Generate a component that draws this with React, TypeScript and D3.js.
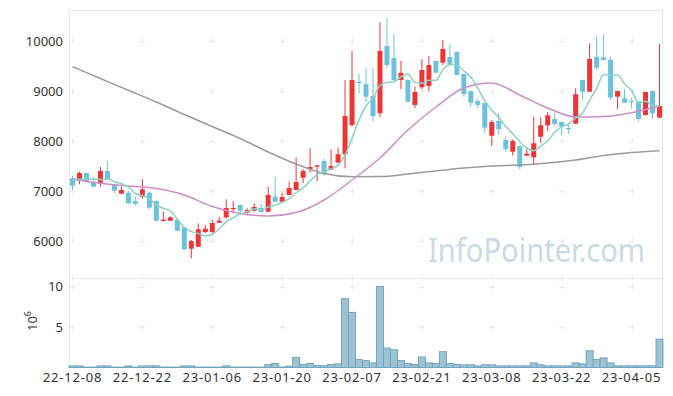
import * as d3 from "d3";

// trading days
const dates = [
  "22-12-08", "22-12-09", "22-12-12", "22-12-13", "22-12-14", "22-12-15", "22-12-16", "22-12-19", "22-12-20", "22-12-21",
  "22-12-22", "22-12-23", "22-12-26", "22-12-27", "22-12-28", "22-12-29", "23-01-02", "23-01-03", "23-01-04", "23-01-05",
  "23-01-06", "23-01-09", "23-01-10", "23-01-11", "23-01-12", "23-01-13", "23-01-16", "23-01-17", "23-01-18", "23-01-19",
  "23-01-20", "23-01-25", "23-01-26", "23-01-27", "23-01-30", "23-01-31", "23-02-01", "23-02-02", "23-02-03", "23-02-06",
  "23-02-07", "23-02-08", "23-02-09", "23-02-10", "23-02-13", "23-02-14", "23-02-15", "23-02-16", "23-02-17", "23-02-20",
  "23-02-21", "23-02-22", "23-02-23", "23-02-24", "23-02-27", "23-02-28", "23-03-02", "23-03-03", "23-03-06", "23-03-07",
  "23-03-08", "23-03-09", "23-03-10", "23-03-13", "23-03-14", "23-03-15", "23-03-16", "23-03-17", "23-03-20", "23-03-21",
  "23-03-22", "23-03-23", "23-03-24", "23-03-27", "23-03-28", "23-03-29", "23-03-30", "23-03-31", "23-04-03", "23-04-04",
  "23-04-05", "23-04-06", "23-04-07", "23-04-10", "23-04-11",
];
const tickLabels = ["22-12-08", "22-12-22", "23-01-06", "23-01-20", "23-02-07", "23-02-21", "23-03-08", "23-03-22", "23-04-05"];

const opens = [
  7254, 7206, 7360, 7180, 7146, 7400, 7126, 6946, 6966, 6800,
  6886, 6966, 6800, 6400, 6406, 6420, 6274, 5846, 5886, 6180,
  6180, 6366, 6474, 6650, 6720, 6566, 6606, 6660, 6586, 6886,
  6786, 6920, 7020, 7266, 7440, 7486, 7600, 7430, 7566, 7734,
  8320, 9186, 9134, 8900, 8554, 9900, 9660, 9220, 9220, 8720,
  9074, 9100, 9600, 9566, 9680, 9780, 9340, 9000, 8800, 8760,
  8106, 8400, 8020, 7786, 7900, 7706, 7674, 8086, 8314, 8440,
  8380, 8260, 8346, 9220, 8986, 9686, 9674, 9620, 8886, 8854,
  8806, 8786, 8520, 9000, 8466,
];
const highs = [
  7300, 7386, 7370, 7266, 7480, 7600, 7130, 7086, 7006, 6886,
  7240, 6980, 6810, 6590, 6494, 6440, 6280, 6020, 6354, 6314,
  6420, 6486, 6834, 6794, 6730, 6654, 6754, 6740, 7086, 7286,
  6960, 7194, 7676, 7440, 7854, 7520, 7654, 7834, 7870, 9220,
  9800, 9354, 9454, 9454, 10374, 10460, 10140, 9600, 9230, 9086,
  9634, 9700, 9610, 10020, 9940, 9790, 9350, 9010, 8854, 8770,
  8420, 8554, 8086, 8034, 7910, 7834, 8486, 8466, 8580, 8574,
  8390, 8354, 9054, 9230, 9954, 10100, 10136, 9686, 9000, 9034,
  8860, 8790, 8990, 9010, 9940,
];
const lows = [
  7020, 7134, 7170, 7080, 7086, 7220, 6954, 6940, 6750, 6706,
  6846, 6640, 6390, 6400, 6400, 6200, 5820, 5654, 5880, 6154,
  6160, 6360, 6446, 6566, 6554, 6514, 6586, 6570, 6570, 6780,
  6780, 6910, 7020, 7154, 7366, 7190, 7306, 7420, 7560, 7454,
  8286, 8954, 8774, 8400, 8474, 9454, 9186, 9040, 8770, 8654,
  9034, 8986, 9360, 9520, 9486, 9310, 8886, 8686, 8654, 8166,
  7900, 8120, 7786, 7706, 7434, 7706, 7520, 7960, 8200, 8300,
  8120, 8140, 8340, 8810, 8980, 9420, 9610, 8820, 8640, 8760,
  8650, 8386, 8510, 8440, 8460,
];
const closes = [
  7106, 7360, 7186, 7086, 7400, 7226, 7006, 7020, 6754, 6746,
  7034, 6666, 6406, 6426, 6474, 6206, 5834, 6000, 6234, 6246,
  6360, 6406, 6660, 6660, 6606, 6620, 6680, 6580, 6920, 6786,
  6880, 7060, 7180, 7400, 7480, 7514, 7334, 7500, 7734, 8500,
  9220, 9160, 8886, 8500, 9800, 9520, 9220, 9366, 8786, 8980,
  9420, 9520, 9366, 9840, 9540, 9320, 8940, 8766, 8720, 8266,
  8380, 8234, 7840, 8000, 7480, 7746, 7954, 8314, 8514, 8340,
  8286, 8246, 8934, 8986, 9640, 9466, 9620, 8866, 9000, 8766,
  8800, 8440, 8980, 8554, 8700,
];
// closes of the 4 days before the first one, for the 5-day average
const priorCloses = [7360, 7186, 7056, 7462];

// volume, in millions
const volumes = [
  0.2, 0.2, 0.05, 0.05, 0.2, 0.2, 0.05, 0.05, 0.2, 0.05,
  0.2, 0.2, 0.2, 0.05, 0.05, 0.05, 0.2, 0.2, 0.05, 0.05,
  0.05, 0.05, 0.2, 0.05, 0.05, 0.05, 0.05, 0.05, 0.37, 0.49,
  0.05, 0.16, 1.22, 0.37, 0.49, 0.24, 0.24, 0.37, 0.45, 8.5,
  6.8, 0.98, 0.85, 0.57, 10.0, 2.4, 2.2, 0.85, 0.49, 0.37,
  1.3, 0.57, 0.49, 1.95, 0.49, 0.37, 0.33, 0.33, 0.2, 0.33,
  0.33, 0.2, 0.2, 0.2, 0.2, 0.2, 0.57, 0.33, 0.2, 0.2,
  0.2, 0.2, 0.57, 0.45, 2.07, 0.98, 1.18, 0.57, 0.2, 0.2,
  0.2, 0.2, 0.2, 0.2, 3.5,
];

// 20 and 120 day averages, every 4th day
const maIdx = [0, 4, 8, 12, 16, 20, 24, 28, 32, 36, 40, 44, 48, 52, 56, 60, 64, 68, 72, 76, 80, 84];
const ma20 = [7240, 7154, 7100, 7050, 6920, 6690, 6550, 6500, 6570, 6820, 7220, 7660, 8220, 8680, 9060, 9160, 8920, 8660, 8480, 8490, 8566, 8700];
const ma120 = [9486, 9250, 9014, 8780, 8530, 8290, 8050, 7780, 7540, 7350, 7286, 7290, 7340, 7400, 7460, 7500, 7520, 7560, 7620, 7710, 7770, 7806];

const priceTicks = [6000, 7000, 8000, 9000, 10000];
const volTicks = [5, 10];

const W = 673, H = 396;
const left = 69, right = 663;
const mainTop = 10, mainBottom = 278, volBottom = 367.5;

const UP = "#ee3535";
const DOWN = "#6cc2dd";
const FONT = "'Noto Sans', sans-serif";

export default function App() {
  const x = d3.scaleBand<string>().domain(dates).range([left, right]);
  const bw = x.bandwidth();
  const cx = (i: number) => (x(dates[i]) as number) + bw / 2;
  const y = d3.scaleLinear().domain([5260, 10620]).range([mainBottom, mainTop]);
  const yv = d3.scaleLinear().domain([0, 11.05]).range([volBottom, mainBottom]);

  const all = [...priorCloses, ...closes];
  const ma5 = closes.map((_, i) => d3.mean(all.slice(i, i + 5)) as number);

  const line = d3
    .line<[number, number]>()
    .x((d) => cx(d[0]))
    .y((d) => y(d[1]))
    .curve(d3.curveMonotoneX);

  const crossXs = tickLabels.map((t) => (x(t) as number) + bw / 2);
  const crossYs = [...priceTicks.map((v) => y(v)), mainBottom, ...volTicks.map((v) => yv(v))];

  return (
    <svg width={W} height={H} style={{ position: "absolute", left: 0, top: 0 }} fontFamily={FONT}>
      <rect width={W} height={H} fill="#fff" />
      {/* panel frames */}
      <g fill="none" stroke="#e6e6e6" strokeWidth={1}>
        <rect x={left + 0.5} y={mainTop + 0.5} width={right - left - 1} height={mainBottom - mainTop} />
        <rect x={left + 0.5} y={mainBottom + 0.5} width={right - left - 1} height={volBottom - mainBottom - 0.5} />
      </g>
      {/* grid crosses */}
      <g stroke="#e8e8e8" strokeWidth={1}>
        {crossXs.map((gx) =>
          crossYs.map((gy) => (
            <g key={`${gx}-${gy}`}>
              <line x1={gx - 2.5} x2={gx + 2.5} y1={Math.round(gy) + 0.5} y2={Math.round(gy) + 0.5} />
              <line x1={Math.round(gx) + 0.5} x2={Math.round(gx) + 0.5} y1={gy - 2.5} y2={gy + 2.5} />
            </g>
          ))
        )}
      </g>
      {/* watermark */}
      <text x={428} y={262} fontSize={33} fill="#c8dbe5" textLength={217} lengthAdjust="spacingAndGlyphs">
        InfoPointer.com
      </text>
      {/* candles */}
      <g>
        {dates.map((d, i) => {
          const o = opens[i], c = closes[i];
          const col = c >= o ? UP : DOWN;
          const top = y(Math.max(o, c));
          const h = Math.max(1.2, Math.abs(y(o) - y(c)));
          const xc = cx(i);
          return (
            <g key={d}>
              <line x1={xc} x2={xc} y1={y(highs[i])} y2={y(lows[i])} stroke={col} strokeWidth={1} />
              <rect x={xc - 2.5} y={top} width={5} height={h} fill={col} />
            </g>
          );
        })}
      </g>
      {/* moving averages */}
      <path d={line(maIdx.map((i, k) => [i, ma120[k]]) as any) || ""} fill="none" stroke="#9b9b9b" strokeWidth={1.5} />
      <path d={line(maIdx.map((i, k) => [i, ma20[k]]) as any) || ""} fill="none" stroke="#cc8dcb" strokeWidth={1.5} />
      <path d={line(ma5.map((v, i) => [i, v]) as any) || ""} fill="none" stroke="#8ed0c5" strokeWidth={1.5} />
      {/* volume */}
      <g fill="#9dc3d3" stroke="#72a6bd" strokeWidth={1}>
        {dates.map((d, i) => (
          <rect key={d} x={x(d) as number} y={yv(volumes[i])} width={bw} height={volBottom - yv(volumes[i])} />
        ))}
      </g>
      {/* axes labels */}
      <g fontSize={13} fill="#333" textAnchor="end">
        {priceTicks.map((v) => (
          <text key={v} x={63} y={y(v)} dy="0.35em">
            {v}
          </text>
        ))}
        {volTicks.map((v) => (
          <text key={v} x={63} y={yv(v)} dy="0.35em">
            {v}
          </text>
        ))}
      </g>
      <text transform="translate(37,321) rotate(-90)" fontSize={13} fill="#333" textAnchor="middle">
        10<tspan dy="-6" fontSize={9}>6</tspan>
      </text>
      <g fontSize={13} fill="#333" textAnchor="middle" letterSpacing={0.8}>
        {tickLabels.map((t) => (
          <text key={t} x={(x(t) as number) + bw / 2} y={382}>
            {t}
          </text>
        ))}
      </g>
    </svg>
  );
}
